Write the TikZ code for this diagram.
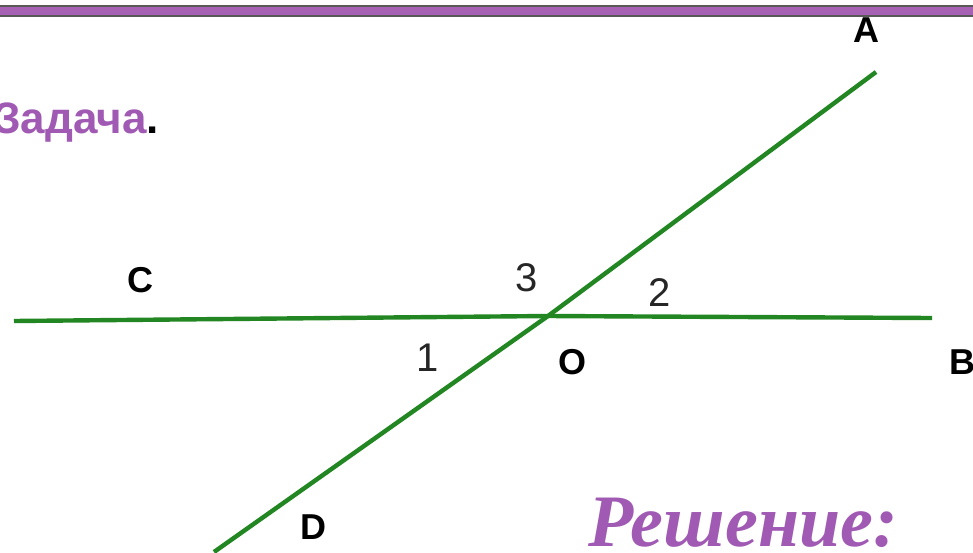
\documentclass[tikz,border=0pt]{standalone}
\usepackage{fontspec}
\setmainfont{Liberation Sans}
\newfontfamily\serifrm{Liberation Serif}
\definecolor{bandpurple}{RGB}{168,98,180}
\definecolor{txtpurple}{RGB}{160,90,180}
\definecolor{linegreen}{RGB}{34,134,34}
\tikzset{
  seg/.style={draw=linegreen, line width=4.4pt},
  ptlabel/.style={font=\fontsize{36}{40}\selectfont\bfseries, text=black, inner sep=0pt},
  anglabel/.style={font=\fontsize{40}{44}\selectfont, text=black!85, inner sep=0pt}
}
\begin{document}
\begin{tikzpicture}[x=1pt,y=-1pt]
\useasboundingbox (0,0) rectangle (973,552);
\clip (0,0) rectangle (973,552);
\fill[white] (0,0) rectangle (973,552);
% top band
\fill[black!65] (0,4.5) rectangle (973,16.5);
\fill[bandpurple] (0,6.5) rectangle (973,14.5);
% points
\coordinate (O) at (548,316);
\coordinate (A) at (876,72);
\coordinate (C) at (14,321);
\coordinate (B) at (932,318);
\coordinate (D) at (214,552);
\draw[seg] (C) -- (O);
\draw[seg] (O) -- (B);
\draw[seg] (A) -- (O);
\draw[seg] (O) -- (D);
% labels
\node[ptlabel] (lA) at (866,30) {A};
\node[ptlabel] (lC) at (140,280) {C};
\node[ptlabel] (lB) at (962,362) {B};
\node[ptlabel] (lD) at (313,527) {D};
\node[ptlabel] (lO) at (572,362) {O};
\node[anglabel] (l3) at (527,278) {3};
\node[anglabel] (l2) at (660,293) {2};
\node[anglabel] (l1) at (428,358) {1};
% titles
\node[anchor=base west, inner sep=0pt, font=\fontsize{44}{48}\selectfont\bfseries] (task) at (-7,133) {\textcolor{txtpurple}{Задача}.};
\node[anchor=base west, inner sep=0pt, text=txtpurple, font=\serifrm\fontsize{74}{80}\selectfont\bfseries\itshape] (sol) at (588,546) {Решение:};
\end{tikzpicture}
\end{document}
